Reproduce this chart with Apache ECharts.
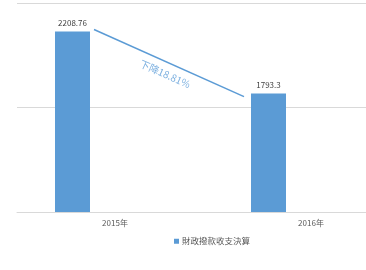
<!DOCTYPE html>
<html><head><meta charset="utf-8">
<script src="https://cdn.jsdelivr.net/npm/echarts@6/dist/echarts.min.js"></script>
<style>html,body{margin:0;padding:0;background:#fff}#c{width:366px;height:270px}</style>
</head><body><div id="c"></div>
<script>
var categories = ['2015年', '2016年'];
var seriesName = '財政撥款收支決算';
var values = [2208.76, 1793.3];
var changeLabel = '下降18.81%';
var yMin = 1000, yMax = 2400, yInterval = 700;

var FONT = '"Noto Sans CJK TC","Noto Sans CJK SC",sans-serif';
var chart = echarts.init(document.getElementById('c'), null, {renderer: 'canvas'});
var option = {
  animation: false,
  textStyle: {fontFamily: FONT},
  grid: {left: 17, top: 3, width: 392, height: 209, containLabel: false, outerBoundsMode: 'none'},
  legend: {
    data: [seriesName], left: 169, top: 232, itemWidth: 5, itemHeight: 5, icon: 'rect', itemGap: 3,
    textStyle: {fontSize: 8.5, color: '#595959', fontFamily: FONT, padding: [0, 0, 0, -2]}
  },
  xAxis: {
    type: 'category', data: categories,
    axisLine: {lineStyle: {color: '#d9d9d9', width: 1}},
    axisTick: {show: false},
    axisLabel: {fontSize: 8, color: '#595959', margin: 7, fontFamily: FONT}
  },
  yAxis: {
    type: 'value', min: yMin, max: yMax, interval: yInterval,
    axisLine: {show: false}, axisTick: {show: false}, axisLabel: {show: false},
    splitLine: {lineStyle: {color: '#d9d9d9', width: 1}}
  },
  series: [
    {name: seriesName, type: 'bar', data: values, barWidth: 35, barGap: '142.86%',
     itemStyle: {color: '#5b9bd5'},
     label: {show: true, position: 'top', distance: 5, fontSize: 8, color: '#404040', fontFamily: FONT}},
    {name: '_', type: 'bar', data: [null, null], barWidth: 35}
  ]
};
chart.setOption(option);

// annotation line between bars, positioned through axes
var off = 42.5, half = 17.5;
var x1 = chart.convertToPixel({xAxisIndex: 0}, categories[0]) - off + half + 4;
var y1 = chart.convertToPixel({yAxisIndex: 0}, values[0]) - 2;
var x2 = chart.convertToPixel({xAxisIndex: 0}, categories[1]) - off - half - 7;
var y2 = chart.convertToPixel({yAxisIndex: 0}, values[1]) + 3;
var ang = Math.atan2(y2 - y1, x2 - x1);
var mx = (x1 + x2) / 2, my = (y1 + y2) / 2;
var d = 12;
var tx = mx - Math.sin(ang) * d + 1, ty = my + Math.cos(ang) * d;
chart.setOption({graphic: [
  {type: 'line', shape: {x1: x1, y1: y1, x2: x2, y2: y2}, style: {stroke: '#5b9bd5', lineWidth: 1.5}},
  {type: 'text', x: tx, y: ty, rotation: -ang,
   style: {text: changeLabel, fill: '#7eb1e0', font: '10px ' + FONT, align: 'center', verticalAlign: 'middle'}}
]});
</script></body></html>
